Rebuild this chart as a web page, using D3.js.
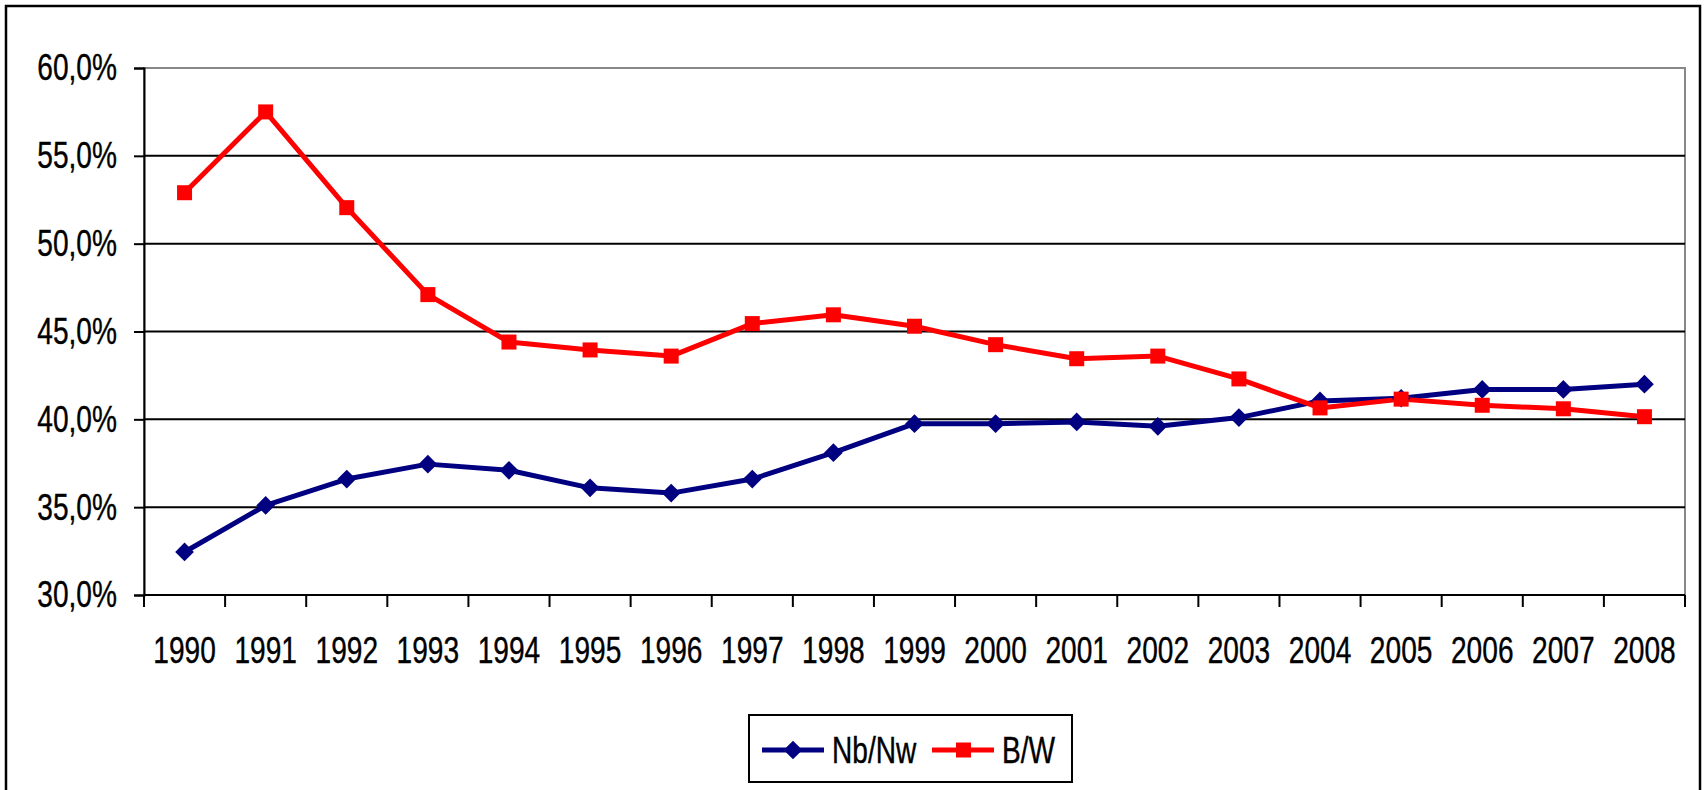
<!DOCTYPE html>
<html>
<head>
<meta charset="utf-8">
<script src="https://cdn.jsdelivr.net/npm/d3@7"></script>
<style>
  html, body { margin: 0; padding: 0; background: #fff; }
  svg { display: block; }
  .lbl { font-family: "Liberation Sans", Arial, sans-serif; font-size: 37px; fill: #000; stroke: #000; stroke-width: 0.4px; }
</style>
</head>
<body>
<div id="chart"></div>
<script>
// --------------------------------------
//  Data
// --------------------------------------

const years = ["1990","1991","1992","1993","1994","1995","1996","1997","1998","1999",
               "2000","2001","2002","2003","2004","2005","2006","2007","2008"];
const nbNw = [32.45, 35.1, 36.6, 37.45, 37.1, 36.1, 35.8, 36.6, 38.1, 39.75,
              39.75, 39.85, 39.6, 40.1, 41.05, 41.2, 41.7, 41.7, 42.0];
const bW   = [52.9, 57.5, 52.05, 47.1, 44.4, 43.95, 43.6, 45.45, 45.95, 45.3,
              44.25, 43.45, 43.6, 42.3, 40.65, 41.15, 40.8, 40.6, 40.15];
const yTicks = [30, 35, 40, 45, 50, 55, 60];
const seriesNames = ["Nb/Nw", "B/W"];

// --------------------------------------
//  Margin and canvas
// --------------------------------------

const width = 1705;
const height = 790;
const margin = {top: 68, right: 20, bottom: 195, left: 144};
const innerwidth = width - margin.left - margin.right;
const innerheight = height - margin.top - margin.bottom;
const narrow = 0.76; // squeeze the sans face to look like a narrow font

const svg = d3.select("#chart")
  .append("svg")
    .attr("width", width)
    .attr("height", height)
    .attr("viewBox", `0, 0, ${width}, ${height}`);

// outer frame (bottom edge sits below the picture)
svg.append("rect")
    .attr("x", 6).attr("y", 6)
    .attr("width", 1694).attr("height", 800)
    .attr("fill", "none")
    .attr("stroke", "#000")
    .attr("stroke-width", 2.5);

const inner = svg.append("g")
    .attr("transform", `translate(${margin.left}, ${margin.top})`);

// --------------------------------------
//  Scales
// --------------------------------------

const x = d3.scaleBand()
    .domain(years)
    .range([0, innerwidth]);

const y = d3.scaleLinear()
    .domain([30, 60])
    .range([innerheight, 0]);

// --------------------------------------
//  Grid and plot frame
// --------------------------------------

inner.append("rect")
    .attr("x", 0).attr("y", 0)
    .attr("width", innerwidth).attr("height", innerheight)
    .attr("fill", "none")
    .attr("stroke", "#888")
    .attr("stroke-width", 2);

inner.append("g")
  .selectAll("line")
  .data(yTicks.filter(d => d < 60))
  .join("line")
    .attr("x1", 0).attr("x2", innerwidth)
    .attr("y1", d => y(d)).attr("y2", d => y(d))
    .attr("stroke", "#000")
    .attr("stroke-width", 2);

// --------------------------------------
//  Axes
// --------------------------------------

const yAxis = inner.append("g")
    .call(d3.axisLeft(y)
      .tickValues(yTicks)
      .tickSize(10)
      .tickPadding(17)
      .tickFormat(d => d3.format(".1f")(d).replace(".", ",") + "%"));

const xAxis = inner.append("g")
    .attr("transform", `translate(0, ${innerheight})`)
    .call(d3.axisBottom(x).tickSize(0).tickPadding(42));

// category boundary ticks
inner.append("g")
    .attr("transform", `translate(0, ${innerheight})`)
  .selectAll("line")
  .data(years.map((d, i) => i).concat([years.length]))
  .join("line")
    .attr("x1", i => i * x.step()).attr("x2", i => i * x.step())
    .attr("y1", 0).attr("y2", 12)
    .attr("stroke", "#000")
    .attr("stroke-width", 2);

[yAxis, xAxis].forEach(g => {
  g.select(".domain").attr("stroke", "#000").attr("stroke-width", 2);
  g.selectAll(".tick line").attr("stroke", "#000").attr("stroke-width", 2);
  g.selectAll("text").each(function() {
    const t = d3.select(this);
    const tx = +t.attr("x") || 0, ty = +t.attr("y") || 0;
    t.attr("class", "lbl").attr("font-size", null).attr("font-family", null)
     .attr("x", 0).attr("y", 0)
     .attr("transform", `translate(${tx}, ${ty}) scale(${narrow}, 1)`);
  });
});
xAxis.select(".domain").attr("d", `M0,0H${innerwidth}`);

// --------------------------------------
//  Lines and markers
// --------------------------------------

const cx = d => x(d) + x.bandwidth() / 2;
const line = d3.line()
    .x((d, i) => cx(years[i]))
    .y(d => y(d));

inner.append("path")
    .attr("d", line(nbNw))
    .attr("fill", "none")
    .attr("stroke", "#000080")
    .attr("stroke-width", 5)
    .attr("stroke-linejoin", "round");

inner.append("path")
    .attr("d", line(bW))
    .attr("fill", "none")
    .attr("stroke", "#ff0000")
    .attr("stroke-width", 5)
    .attr("stroke-linejoin", "round");

const diamond = d3.symbol().type(d3.symbolSquare).size(175);

inner.append("g")
  .selectAll("path")
  .data(nbNw)
  .join("path")
    .attr("d", diamond)
    .attr("transform", (d, i) => `translate(${cx(years[i])}, ${y(d)}) rotate(45)`)
    .attr("fill", "#000080");

inner.append("g")
  .selectAll("rect")
  .data(bW)
  .join("rect")
    .attr("x", (d, i) => cx(years[i]) - 7.5)
    .attr("y", d => y(d) - 7.5)
    .attr("width", 15).attr("height", 15)
    .attr("fill", "#ff0000");

// --------------------------------------
//  Legend
// --------------------------------------

const legend = svg.append("g").attr("transform", "translate(749, 715)");

legend.append("rect")
    .attr("width", 323).attr("height", 67)
    .attr("fill", "#fff")
    .attr("stroke", "#000")
    .attr("stroke-width", 2);

const items = [
  {name: seriesNames[0], color: "#000080", x0: 13},
  {name: seriesNames[1], color: "#ff0000", x0: 183}
];

items.forEach((it, i) => {
  const g = legend.append("g").attr("transform", `translate(${it.x0}, 35)`);
  g.append("line")
      .attr("x1", 0).attr("x2", 62)
      .attr("stroke", it.color).attr("stroke-width", 5);
  if (i === 0) {
    g.append("path").attr("d", diamond).attr("transform", "translate(31,0) rotate(45)").attr("fill", it.color);
  } else {
    g.append("rect").attr("x", 24).attr("y", -7.5).attr("width", 15).attr("height", 15).attr("fill", it.color);
  }
  g.append("text")
      .attr("class", "lbl")
      .attr("transform", `translate(70, 13) scale(${narrow}, 1)`)
      .text(it.name);
});
</script>
</body>
</html>
